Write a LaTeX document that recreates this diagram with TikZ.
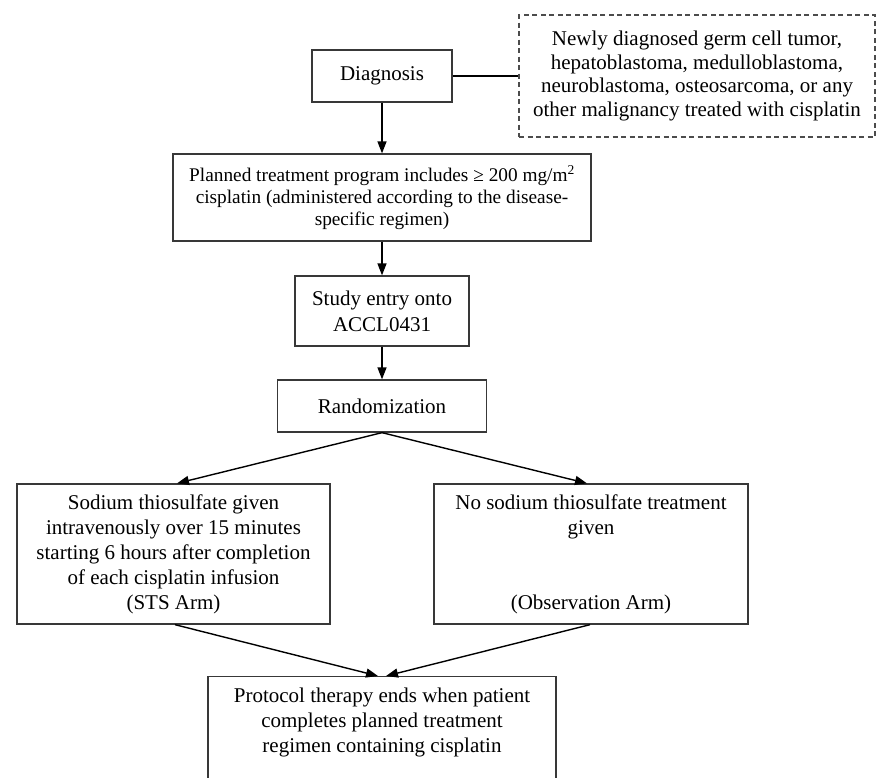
\documentclass[tikz,border=0pt]{standalone}
\usepackage{fontspec}
\setmainfont{Liberation Serif}
\usetikzlibrary{arrows.meta,calc}
\begin{document}
\begin{tikzpicture}[x=1pt,y=-1pt,
  box/.style={draw=black!78, line width=1.3pt, inner sep=0pt, align=center, font=\fontsize{21}{25}\selectfont},
  dbox/.style={box, dash pattern=on 5pt off 3.5pt, draw=black!70},
  conn/.style={line width=1.4pt, draw=black},
  arr/.style={conn, -{Triangle[length=12pt,width=9pt]}}]
\useasboundingbox (0,0) rectangle (877,777);
\clip (0,0) rectangle (877,777);
\fill[white] (0,0) rectangle (877,777);

\node[box, minimum width=140pt, minimum height=52pt] (diag) at (382,76) {Diagnosis};
\node[dbox, minimum width=356pt, minimum height=122pt, font=\fontsize{21}{23.5}\selectfont] (crit) at (697,76)
  {Newly diagnosed germ cell tumor,\\ hepatoblastoma, medulloblastoma,\\ neuroblastoma, osteosarcoma, or any\\ other malignancy treated with cisplatin};
\node[box, minimum width=418pt, minimum height=87pt, font=\fontsize{19.3}{22}\selectfont] (plan) at (382,197.5)
  {Planned treatment program includes ≥ 200 mg/m\textsuperscript{2}\\ cisplatin (administered according to the disease-\\ specific regimen)};
\node[box, minimum width=174pt, minimum height=70pt, font=\fontsize{21}{26}\selectfont] (study) at (382,311)
  {Study entry onto\\ ACCL0431};
\node[box, minimum width=209pt, minimum height=52pt] (rand) at (382,406) {Randomization};
\node[box, minimum width=313pt, minimum height=140pt] (sts) at (173.5,554)
  {Sodium thiosulfate given\\ intravenously over 15 minutes\\ starting 6 hours after completion\\ of each cisplatin infusion\\ (STS Arm)};
\node[box, minimum width=314pt, minimum height=140pt] (obs) at (591,554)
  {No sodium thiosulfate treatment\\ given\\[50pt] (Observation Arm)};
\node[box, minimum width=348pt, minimum height=200pt, anchor=north] (protobox) at (382,676) {};
\node[align=center, inner sep=0pt, font=\fontsize{21}{25}\selectfont] (proto) at (382,722)
  {Protocol therapy ends when patient\\ completes planned treatment\\ regimen containing cisplatin};

\draw[conn] (diag.east) -- (crit.west);
\draw[arr] (diag.south) -- (plan.north);
\draw[arr] (plan.south) -- (study.north);
\draw[arr] (study.south) -- (rand.north);
\draw[arr] (rand.south) -- ($(sts.north)+(3.5,0)$);
\draw[arr] (rand.south) -- ($(obs.north)+(-4,0)$);
\draw[arr] ($(sts.south)+(1.5,0)$) -- ($(protobox.north)+(-4,0)$);
\draw[arr] ($(obs.south)+(-1,0)$) -- ($(protobox.north)+(4,0)$);
\end{tikzpicture}
\end{document}
